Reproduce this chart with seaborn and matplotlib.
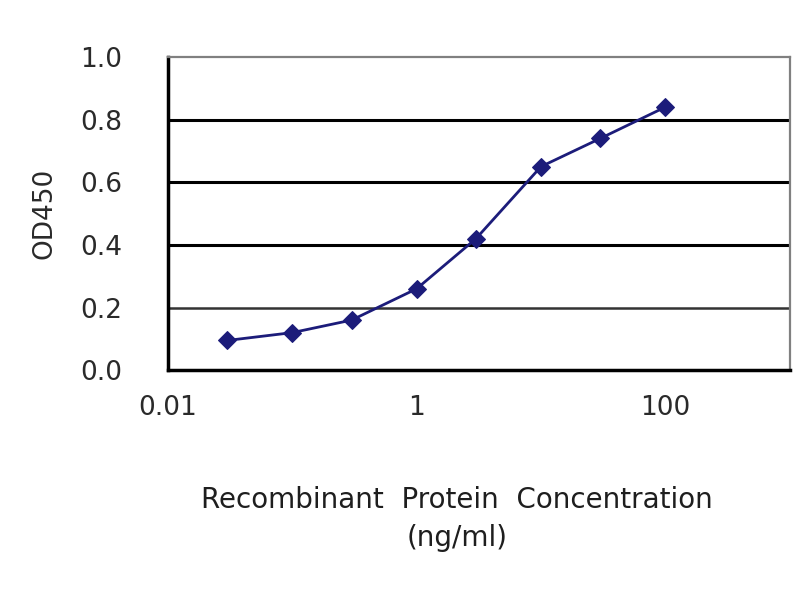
import numpy as np
import pandas as pd
import matplotlib
matplotlib.use('Agg')
import matplotlib.pyplot as plt
import seaborn as sns

# concentration (ng/ml) and OD450 readings
conc = [0.03, 0.1, 0.3, 1, 3, 10, 30, 100]
od450 = [0.095, 0.12, 0.16, 0.26, 0.42, 0.65, 0.74, 0.84]
x_ticks = [0.01, 1, 100]
x_tick_labels = ['0.01', '1', '100']
y_ticks = [0.0, 0.2, 0.4, 0.6, 0.8, 1.0]

sns.set_style('white')
plt.rcParams['font.family'] = ['DejaVu Sans']

df = pd.DataFrame({'conc': conc, 'od': od450})

fig = plt.figure(figsize=(8, 6), dpi=100)
ax = fig.add_axes([0.21, 0.383, 0.777, 0.522])

sns.lineplot(data=df, x='conc', y='od', ax=ax, color='#1c1c7a', linewidth=2,
             marker='D', markersize=9, markeredgecolor='#1c1c7a', zorder=3)

ax.set_xscale('log')
ax.set_xlim(0.01, 1000)
ax.set_ylim(0, 1.0)
ax.set_xticks(x_ticks)
ax.set_xticklabels(x_tick_labels)
ax.xaxis.set_minor_locator(matplotlib.ticker.NullLocator())
ax.set_yticks(y_ticks)
ax.set_yticklabels([f'{v:.1f}' for v in y_ticks])

# Excel style grid: 0.2 line a bit lighter than the rest
for v in y_ticks[1:-1]:
    if v == 0.2:
        ax.axhline(v, color='#333333', linewidth=1.8, zorder=1)
    else:
        ax.axhline(v, color='black', linewidth=2.2, zorder=1)

for side in ['top', 'right']:
    ax.spines[side].set_color('#808080')
    ax.spines[side].set_linewidth(1.6)
for side in ['left', 'bottom']:
    ax.spines[side].set_color('black')
    ax.spines[side].set_linewidth(2.5)

ax.tick_params(axis='x', direction='in', length=7, width=2, colors='black',
               labelsize=19, pad=18, labelcolor='#2a2a2a')
ax.tick_params(axis='y', direction='out', length=5, width=2, colors='black',
               labelsize=19, pad=28, labelcolor='#2a2a2a')

ax.set_xlabel('Recombinant  Protein  Concentration\n(ng/ml)', fontsize=20,
              color='#1e1e1e', linespacing=1.45)
ax.xaxis.set_label_coords(0.465, -0.37, transform=ax.transAxes)
ax.xaxis.label.set_verticalalignment('top')
ax.set_ylabel('OD450', fontsize=19, color='#2a2a2a', labelpad=16)

fig.savefig('out.png', dpi=100)
